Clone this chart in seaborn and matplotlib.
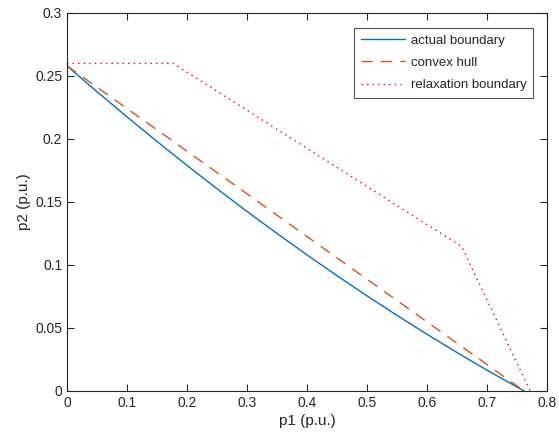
import matplotlib
matplotlib.use("Agg")
import matplotlib.pyplot as plt
import seaborn as sns
import pandas as pd

# data
actual_p1 = [0.0, 0.05, 0.10, 0.15, 0.20, 0.25, 0.30, 0.35, 0.40, 0.45, 0.50, 0.55, 0.60, 0.65, 0.70, 0.762]
actual_p2 = [0.258, 0.2375, 0.2175, 0.198, 0.179, 0.1605, 0.1425, 0.125, 0.108, 0.0915, 0.0755, 0.060, 0.045, 0.0305, 0.0165, 0.0]
hull_p1 = [0.0, 0.762]
hull_p2 = [0.258, 0.0]
relax_p1 = [0.0, 0.177, 0.658, 0.772]
relax_p2 = [0.26, 0.26, 0.1145, 0.0]
x_ticks = [0, 0.1, 0.2, 0.3, 0.4, 0.5, 0.6, 0.7, 0.8]
y_ticks = [0, 0.05, 0.1, 0.15, 0.2, 0.25, 0.3]

sns.set_style("ticks")
plt.rcParams['font.family'] = ['Liberation Sans', 'DejaVu Sans']
plt.rcParams['xtick.direction'] = 'in'
plt.rcParams['ytick.direction'] = 'in'

fig = plt.figure(figsize=(5.59, 4.42), dpi=100)
ax = fig.add_axes([0.12, 0.1154, 0.8585, 0.8552])

df_a = pd.DataFrame({"p1": actual_p1, "p2": actual_p2})
df_h = pd.DataFrame({"p1": hull_p1, "p2": hull_p2})
df_r = pd.DataFrame({"p1": relax_p1, "p2": relax_p2})

sns.lineplot(data=df_a, x="p1", y="p2", ax=ax, color="#0072BD", lw=1.0,
             sort=False, estimator=None, label="actual boundary")
sns.lineplot(data=df_h, x="p1", y="p2", ax=ax, color="#D95319", lw=1.0,
             sort=False, estimator=None, label="convex hull")
ax.lines[-1].set_linestyle((0, (8, 6)))
sns.lineplot(data=df_r, x="p1", y="p2", ax=ax, color="#FF0000", lw=1.0,
             sort=False, estimator=None, label="relaxation boundary")
ax.lines[-1].set_linestyle((0, (1, 3)))

ax.set_xlim(0, 0.8)
ax.set_ylim(0, 0.3)
ax.set_xticks(x_ticks)
ax.set_xticklabels(["0", "0.1", "0.2", "0.3", "0.4", "0.5", "0.6", "0.7", "0.8"])
ax.set_yticks(y_ticks)
ax.set_yticklabels(["0", "0.05", "0.1", "0.15", "0.2", "0.25", "0.3"])
ax.tick_params(axis='both', which='both', labelsize=10, length=5, width=0.8,
               top=True, right=True, colors='#262626', labelcolor='#262626')
for s in ax.spines.values():
    s.set_visible(True)
    s.set_color('#262626')
    s.set_linewidth(0.8)

ax.set_xlabel("p1 (p.u.)", fontsize=11, color='#262626', labelpad=3)
ax.set_ylabel("p2 (p.u.)", fontsize=11, color='#262626', labelpad=3)

leg = ax.legend(loc='upper right', bbox_to_anchor=(0.971, 0.960), borderaxespad=0,
                fontsize=9.5, frameon=True, fancybox=False, edgecolor='#262626',
                handlelength=3.4, borderpad=0.5, labelspacing=0.75, handletextpad=0.4)
leg.get_frame().set_linewidth(0.8)

fig.savefig("out.png", dpi=100)
